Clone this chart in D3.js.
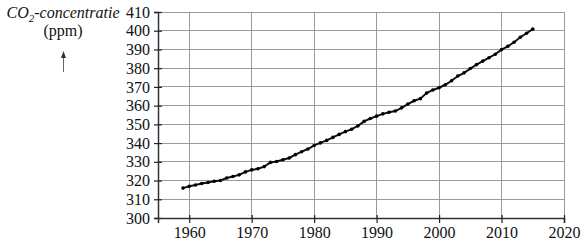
<!DOCTYPE html>
<html><head><meta charset="utf-8">
<script src="https://cdn.jsdelivr.net/npm/d3@7"></script>
<style>body{margin:0;background:#fff}svg{display:block}
</style>
</head><body>
<svg id="c" width="587" height="248" font-family="Liberation Serif"></svg>
<script>
const years = [1959,1960,1961,1962,1963,1964,1965,1966,1967,1968,1969,1970,1971,1972,1973,1974,1975,1976,1977,1978,1979,1980,1981,1982,1983,1984,1985,1986,1987,1988,1989,1990,1991,1992,1993,1994,1995,1996,1997,1998,1999,2000,2001,2002,2003,2004,2005,2006,2007,2008,2009,2010,2011,2012,2013,2014,2015];
const co2 = [315.97,316.91,317.64,318.45,318.99,319.62,320.04,321.38,322.16,323.04,324.62,325.68,326.32,327.45,329.68,330.18,331.11,332.04,333.83,335.40,336.84,338.75,340.11,341.45,343.05,344.65,346.12,347.42,349.19,351.57,353.12,354.39,355.61,356.45,357.10,358.83,360.82,362.61,363.73,366.70,368.38,369.55,371.14,373.28,375.80,377.52,379.80,381.90,383.79,385.60,387.43,389.90,391.65,393.85,396.52,398.65,400.83];
const xTicks = [1960,1970,1980,1990,2000,2010,2020];
const yTicks = [300,310,320,330,340,350,360,370,380,390,400,410];

const FONT = "Liberation Serif";
const svg = d3.select("#c");
const x = d3.scaleLinear().domain([1955,2020]).range([158,564]);
const y = d3.scaleLinear().domain([300,410]).range([218,12]);

// grid
svg.append("g").selectAll("line").data(yTicks.slice(1)).join("line")
  .attr("x1", x(1955)).attr("x2", x(2020))
  .attr("y1", d=>y(d)).attr("y2", d=>y(d))
  .attr("stroke","#9a9a9a").attr("stroke-width",1).attr("shape-rendering","crispEdges");
svg.append("g").selectAll("line").data(xTicks).join("line")
  .attr("x1", d=>x(d)).attr("x2", d=>x(d))
  .attr("y1", y(300)).attr("y2", y(410))
  .attr("stroke","#9a9a9a").attr("stroke-width",1).attr("shape-rendering","crispEdges");

// axes
const yAxis = svg.append("g").attr("transform",`translate(${x(1955)},0)`)
  .call(d3.axisLeft(y).tickValues(yTicks).tickSize(4).tickPadding(4).tickFormat(d3.format("d")));
const xAxis = svg.append("g").attr("transform",`translate(0,${y(300)})`)
  .call(d3.axisBottom(x).tickValues(xTicks).tickSize(5).tickPadding(4).tickFormat(d3.format("d")));
[yAxis,xAxis].forEach(a=>{
  a.attr("font-family", FONT);
  a.select(".domain").attr("stroke","#333").attr("stroke-width",1.5);
  a.selectAll(".tick line").attr("stroke","#222").attr("stroke-width",1.2);
  a.selectAll("text").attr("font-family", FONT).attr("font-size",16).attr("fill","#111");
});
yAxis.selectAll(".tick line").attr("x1",4);
xAxis.selectAll(".tick line").attr("y1",-3);

// line
const pts = years.map((yr,i)=>({yr, v:co2[i]}));
svg.append("path").datum(pts)
  .attr("fill","none").attr("stroke","#111").attr("stroke-width",2)
  .attr("d", d3.line().x(d=>x(d.yr)).y(d=>y(d.v)));
svg.append("g").selectAll("circle").data(pts).join("circle")
  .attr("cx",d=>x(d.yr)).attr("cy",d=>y(d.v)).attr("r",1.8).attr("fill","#000");

// title
const t = svg.append("text").attr("x",63).attr("y",18).attr("text-anchor","middle")
  .attr("font-family", FONT).attr("font-size",16).attr("font-style","italic").attr("fill","#111");
t.append("tspan").text("CO");
t.append("tspan").text("2").attr("font-size",11).attr("dy",4);
t.append("tspan").text("-concentratie").attr("dy",-4);
svg.append("text").attr("x",63).attr("y",36).attr("text-anchor","middle")
  .attr("font-family", FONT).attr("font-size",16).attr("fill","#111").text("(ppm)");
// arrow
svg.append("line").attr("x1",63.5).attr("x2",63.5).attr("y1",72).attr("y2",56)
  .attr("stroke","#666").attr("stroke-width",1);
svg.append("path").attr("d","M63.5,51 L61,58 L66,58 Z").attr("fill","#333");
</script>
</body></html>
